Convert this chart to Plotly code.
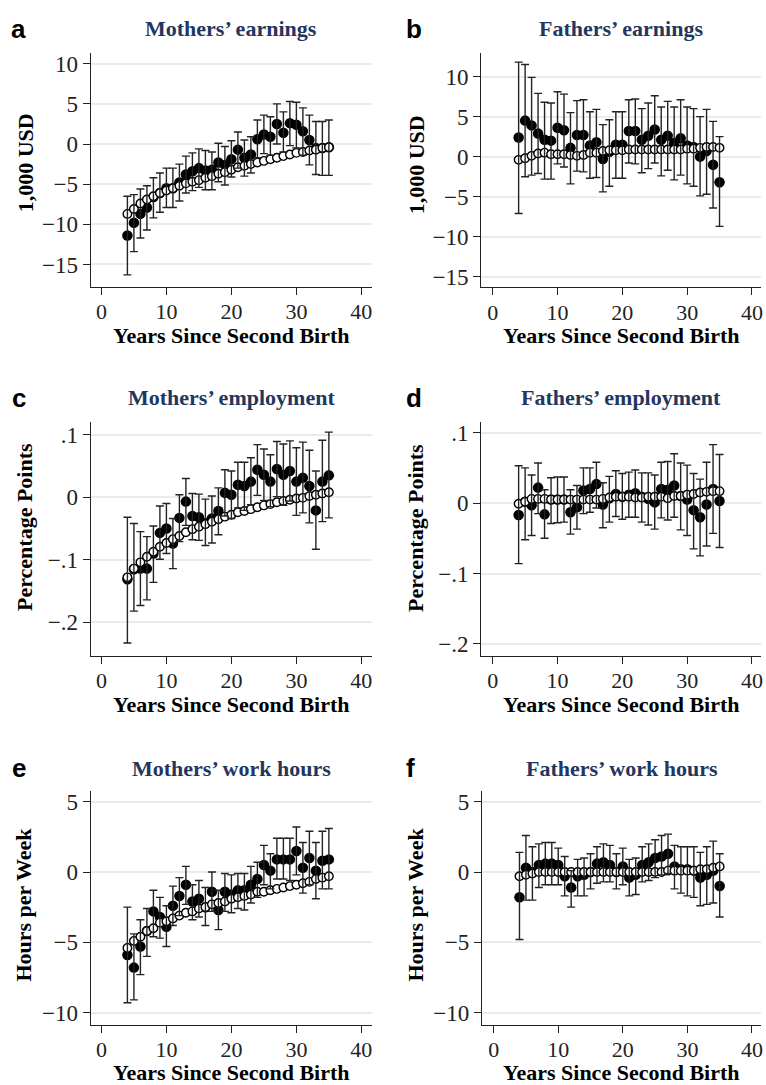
import plotly.graph_objects as go

# ---------------- data ----------------
years = [4, 5, 6, 7, 8, 9, 10, 11, 12, 13, 14, 15, 16, 17, 18, 19,
         20, 21, 22, 23, 24, 25, 26, 27, 28, 29, 30, 31, 32, 33, 34, 35]

# a: Mothers' earnings (1,000 USD)
a_est = [-11.4, -9.8, -8.7, -7.9, -6.6, -6.1, -5.5, -5.5, -4.8, -3.8, -3.4, -3.0, -3.3, -3.2, -2.3, -2.6,
         -1.9, -0.7, -1.7, -1.3, 0.6, 1.2, 0.9, 2.5, 1.4, 2.6, 2.4, 1.6, 0.5, -0.5, -0.5, -0.4]
a_lo = [-16.3, -13.4, -11.7, -10.7, -9.2, -8.5, -7.9, -7.9, -7.1, -6.1, -5.8, -5.4, -5.7, -5.7, -4.7, -5.1,
        -4.1, -3.0, -4.0, -3.6, -1.7, -1.2, -1.4, 0.0, -1.0, -0.2, -0.5, -1.4, -2.6, -3.8, -3.9, -3.9]
a_hi = [-6.5, -6.3, -5.6, -5.2, -4.2, -3.6, -3.0, -3.0, -2.5, -1.5, -1.1, -0.6, -0.8, -1.0, 0.1, -0.3,
        0.4, 1.5, 0.5, 0.9, 3.0, 3.6, 3.4, 5.0, 4.0, 5.3, 5.2, 4.5, 3.6, 2.8, 2.8, 3.0]
a_cf = [-8.7, -8.1, -7.4, -6.9, -6.5, -6.1, -5.8, -5.5, -5.2, -4.9, -4.7, -4.5, -4.2, -4.0, -3.7, -3.5,
        -3.2, -2.9, -2.7, -2.5, -2.3, -2.1, -1.9, -1.7, -1.5, -1.3, -1.1, -1.0, -0.8, -0.7, -0.5, -0.4]

# b: Fathers' earnings (1,000 USD)
b_est = [2.4, 4.5, 3.9, 2.9, 2.1, 2.0, 3.6, 3.3, 1.1, 2.7, 2.7, 1.4, 1.8, -0.3, 0.6, 1.5,
         1.5, 3.2, 3.2, 2.1, 2.6, 3.4, 2.1, 2.6, 1.7, 2.3, 1.4, 1.2, 0.0, 0.7, -1.0, -3.2]
b_lo = [-7.1, -2.5, -2.3, -2.1, -2.8, -2.8, -0.9, -1.3, -3.4, -1.8, -1.9, -2.7, -2.6, -4.4, -3.7, -2.7,
        -2.7, -0.8, -0.9, -2.0, -1.5, -0.8, -2.4, -1.7, -2.9, -2.3, -3.4, -3.7, -4.9, -4.7, -6.4, -8.7]
b_hi = [11.8, 11.5, 9.9, 7.9, 6.8, 6.7, 8.1, 7.8, 5.5, 7.0, 7.1, 5.6, 5.9, 4.0, 4.6, 5.6,
        5.6, 7.1, 7.2, 6.0, 6.7, 7.6, 6.2, 6.9, 6.2, 7.1, 6.2, 6.0, 5.0, 5.9, 4.4, 2.5]
b_cf = [-0.4, -0.2, 0.1, 0.4, 0.5, 0.3, 0.3, 0.3, 0.2, 0.1, 0.2, 0.5, 0.5, 0.7, 0.8, 0.8,
        0.8, 0.9, 0.9, 0.9, 0.9, 0.9, 0.9, 0.9, 0.9, 0.9, 1.0, 1.0, 1.1, 1.2, 1.2, 1.1]

# c: Mothers' employment (percentage points)
c_est = [-0.131, -0.115, -0.114, -0.114, -0.090, -0.057, -0.050, -0.074, -0.033, -0.007, -0.030, -0.032,
         -0.041, -0.034, -0.022, 0.007, 0.004, 0.020, 0.018, 0.025, 0.044, 0.036, 0.025, 0.045,
         0.036, 0.042, 0.025, 0.031, 0.018, -0.021, 0.025, 0.035]
c_lo = [-0.233, -0.182, -0.173, -0.164, -0.136, -0.099, -0.090, -0.114, -0.071, -0.045, -0.068, -0.069,
        -0.077, -0.073, -0.060, -0.030, -0.034, -0.017, -0.021, -0.012, 0.003, -0.005, -0.015, 0.001,
        -0.013, -0.006, -0.029, -0.025, -0.041, -0.083, -0.039, -0.033]
c_hi = [-0.032, -0.042, -0.055, -0.063, -0.046, -0.014, -0.010, -0.034, 0.004, 0.030, 0.006, 0.005,
        -0.003, 0.002, 0.015, 0.044, 0.042, 0.056, 0.056, 0.063, 0.084, 0.077, 0.068, 0.089,
        0.085, 0.090, 0.079, 0.088, 0.075, 0.042, 0.091, 0.104]
c_cf = [-0.128, -0.114, -0.104, -0.095, -0.087, -0.079, -0.073, -0.067, -0.062, -0.056, -0.051, -0.047,
        -0.043, -0.039, -0.035, -0.031, -0.028, -0.024, -0.022, -0.019, -0.016, -0.013, -0.011, -0.008,
        -0.006, -0.004, -0.002, -0.001, 0.002, 0.004, 0.006, 0.008]

# d: Fathers' employment (percentage points)
d_est = [-0.017, 0.002, -0.003, 0.022, -0.016, 0.005, 0.005, 0.005, -0.013, -0.006, 0.018, 0.020,
         0.027, -0.002, 0.007, 0.013, 0.009, 0.012, 0.014, 0.009, 0.006, 0.001, 0.020, 0.019,
         0.025, 0.010, 0.005, -0.010, -0.020, -0.002, 0.020, 0.003]
d_lo = [-0.086, -0.052, -0.046, -0.015, -0.050, -0.029, -0.028, -0.027, -0.044, -0.037, -0.015, -0.013,
        -0.007, -0.035, -0.027, -0.019, -0.023, -0.020, -0.020, -0.027, -0.031, -0.037, -0.021, -0.024,
        -0.020, -0.038, -0.046, -0.065, -0.075, -0.061, -0.043, -0.063]
d_hi = [0.053, 0.050, 0.040, 0.057, 0.019, 0.036, 0.037, 0.037, 0.019, 0.025, 0.050, 0.050,
        0.058, 0.029, 0.038, 0.046, 0.042, 0.044, 0.047, 0.043, 0.043, 0.040, 0.058, 0.059,
        0.070, 0.057, 0.054, 0.042, 0.034, 0.058, 0.083, 0.069]
d_cf = [-0.001, 0.002, 0.006, 0.006, 0.006, 0.005, 0.005, 0.005, 0.005, 0.005, 0.005, 0.005,
        0.005, 0.006, 0.008, 0.009, 0.009, 0.009, 0.008, 0.008, 0.009, 0.009, 0.009, 0.007,
        0.010, 0.010, 0.012, 0.013, 0.015, 0.016, 0.017, 0.017]

# e: Mothers' work hours (hours per week)
e_est = [-5.9, -6.8, -5.3, -4.2, -2.8, -3.2, -3.9, -2.4, -1.7, -0.9, -2.1, -1.9, -2.5, -1.4, -2.7, -1.4,
         -1.6, -1.3, -1.3, -0.9, -0.5, 0.5, 0.1, 0.9, 0.9, 0.9, 1.5, 0.3, 1.0, 0.1, 0.8, 0.9]
e_lo = [-9.3, -9.1, -7.3, -6.0, -4.6, -4.7, -5.3, -3.8, -3.1, -2.3, -3.4, -3.2, -3.8, -2.8, -4.1, -2.8,
        -2.9, -2.6, -2.7, -2.2, -1.8, -0.9, -1.2, -0.5, -0.5, -0.6, -0.2, -1.5, -0.9, -1.9, -1.2, -1.2]
e_hi = [-2.5, -4.4, -3.4, -2.6, -1.3, -1.8, -2.4, -1.0, -0.4, 0.4, -0.9, -0.6, -1.1, 0.0, -1.3, -0.1,
        -0.2, -0.1, -0.1, 0.4, 0.7, 1.9, 1.3, 2.4, 2.4, 2.4, 3.2, 2.1, 2.9, 2.1, 2.9, 3.1]
e_cf = [-5.4, -4.9, -4.6, -4.2, -4.0, -3.6, -3.5, -3.3, -3.1, -2.9, -2.8, -2.6, -2.5, -2.3, -2.2, -2.1,
        -1.9, -1.8, -1.7, -1.6, -1.4, -1.4, -1.3, -1.2, -1.1, -1.0, -0.9, -0.8, -0.7, -0.5, -0.4, -0.3]

# f: Fathers' work hours (hours per week)
f_est = [-1.8, 0.3, 0.0, 0.5, 0.6, 0.6, 0.5, -0.3, -1.1, -0.3, -0.2, 0.0, 0.6, 0.7, 0.5, 0.0,
         0.4, -0.4, -0.2, 0.5, 0.7, 1.0, 1.1, 1.3, 0.4, 0.2, 0.2, 0.1, -0.4, -0.2, 0.1, -1.0]
f_lo = [-4.8, -2.0, -2.0, -1.1, -0.9, -0.9, -0.9, -1.7, -2.5, -1.7, -1.7, -1.2, -0.8, -0.7, -0.7, -1.2,
        -0.9, -1.7, -1.6, -0.7, -0.6, -0.4, -0.2, -0.1, -1.2, -1.5, -1.7, -1.8, -2.4, -2.3, -2.2, -3.2]
f_hi = [1.4, 2.6, 1.8, 2.0, 2.1, 2.1, 1.7, 1.1, 0.1, 0.9, 1.0, 1.3, 1.8, 2.0, 1.9, 1.3,
        1.7, 0.9, 1.0, 1.8, 2.0, 2.3, 2.6, 2.7, 1.9, 1.8, 1.8, 1.8, 1.4, 1.8, 2.2, 1.3]
f_cf = [-0.3, -0.2, -0.1, 0.0, 0.0, 0.0, 0.0, 0.0, 0.0, 0.0, 0.0, 0.0, 0.0, 0.0, 0.0, 0.0,
        0.0, 0.0, 0.0, 0.0, 0.0, 0.0, 0.0, 0.1, 0.1, 0.1, 0.1, 0.1, 0.2, 0.2, 0.3, 0.4]

x_ticks = [0, 10, 20, 30, 40]
earn_ticks = [-15, -10, -5, 0, 5, 10]
emp_ticks = [-0.2, -0.1, 0, 0.1]
emp_ticktext = ["\u2212.2", "\u2212.1", "0", ".1"]
hour_ticks = [-10, -5, 0, 5]

titles = ["Mothers\u2019 earnings", "Fathers\u2019 earnings",
          "Mothers\u2019 employment", "Fathers\u2019 employment",
          "Mothers\u2019 work hours", "Fathers\u2019 work hours"]
letters = ["a", "b", "c", "d", "e", "f"]
ylabels = ["1,000 USD", "1,000 USD", "Percentage Points", "Percentage Points",
           "Hours per Week", "Hours per Week"]
xlabel = "Years Since Second Birth"

# ---------------- layout geometry (page pixels) ----------------
W, H = 766, 1085


def px(x):
    return x / W


def py(y):
    return 1 - y / H


panels = [
    dict(est=a_est, lo=a_lo, hi=a_hi, cf=a_cf, xd=(91, 373), yd=(51.7, 287.0),
         xr=[-1.64, 41.64], yr=[-17.8, 11.4], tv=earn_ticks, tt=None,
         ytc=162, ylx=25, xty=336, tty=28, lx=19),
    dict(est=b_est, lo=b_lo, hi=b_hi, cf=b_cf, xd=(482.5, 763), yd=(51.7, 287.3),
         xr=[-1.77, 41.4], yr=[-16.3, 13.0], tv=earn_ticks, tt=None,
         ytc=164, ylx=417, xty=336, tty=28, lx=415),
    dict(est=c_est, lo=c_lo, hi=c_hi, cf=c_cf, xd=(91, 373), yd=(422.7, 657.0),
         xr=[-1.64, 41.64], yr=[-0.253, 0.12], tv=emp_ticks, tt=emp_ticktext,
         ytc=528, ylx=24, xty=706, tty=398, lx=19),
    dict(est=d_est, lo=d_lo, hi=d_hi, cf=d_cf, xd=(482.5, 763), yd=(422.7, 657.3),
         xr=[-1.77, 41.4], yr=[-0.217, 0.115], tv=emp_ticks, tt=emp_ticktext,
         ytc=529, ylx=416, xty=706, tty=398, lx=415),
    dict(est=e_est, lo=e_lo, hi=e_hi, cf=e_cf, xd=(91, 373), yd=(793.0, 1027.3),
         xr=[-1.64, 41.64], yr=[-10.85, 5.76], tv=hour_ticks, tt=None,
         ytc=907, ylx=24, xty=1075, tty=770, lx=19),
    dict(est=f_est, lo=f_lo, hi=f_hi, cf=f_cf, xd=(483.3, 763), yd=(793.0, 1027.3),
         xr=[-1.8, 41.4], yr=[-10.85, 5.76], tv=hour_ticks, tt=None,
         ytc=907, ylx=417, xty=1075, tty=770, lx=412),
]

SERIF = "Liberation Serif, Times New Roman, serif"
SANS = "Liberation Sans, Arial, sans-serif"
TITLE_COLOR = "#24365e"
GRID = "#e4eef1"
AXC = "#222222"

fig = go.Figure()
layout = dict(width=W, height=H, margin=dict(l=0, r=0, t=0, b=0),
              paper_bgcolor="white", plot_bgcolor="white", showlegend=False)
annotations = []

for i, p in enumerate(panels):
    n = "" if i == 0 else str(i + 1)
    xa, ya = "x" + n, "y" + n
    fig.add_trace(go.Scatter(
        x=years, y=p["est"], mode="markers", xaxis=xa, yaxis=ya,
        marker=dict(size=10.5, color="black", line=dict(width=0)), cliponaxis=False))
    fig.add_trace(go.Scatter(
        x=years, y=p["cf"], mode="markers", xaxis=xa, yaxis=ya,
        marker=dict(size=8.5, color="white", line=dict(width=1.4, color="black")), cliponaxis=False))
    plus = [h - e for h, e in zip(p["hi"], p["est"])]
    minus = [e - l for e, l in zip(p["est"], p["lo"])]
    fig.add_trace(go.Scatter(
        x=years, y=p["est"], mode="markers", xaxis=xa, yaxis=ya,
        marker=dict(size=1, color="rgba(0,0,0,0)"),
        error_y=dict(type="data", array=plus, arrayminus=minus, visible=True,
                     color=AXC, thickness=1.4, width=4), cliponaxis=False))

    xdom = [px(p["xd"][0]), px(p["xd"][1])]
    ydom = [py(p["yd"][1]), py(p["yd"][0])]
    layout["xaxis" + n] = dict(
        domain=xdom, range=p["xr"], anchor=ya, tickvals=x_ticks,
        showline=True, linecolor=AXC, linewidth=1.3, ticks="outside",
        ticklen=7, tickwidth=1.3, tickcolor=AXC, showgrid=False, zeroline=False,
        ticklabelstandoff=-2,
        tickfont=dict(family=SERIF, size=22, color=AXC), fixedrange=True)
    yax = dict(
        domain=ydom, range=p["yr"], anchor=xa, tickvals=p["tv"],
        showline=True, linecolor=AXC, linewidth=1.3, ticks="outside",
        ticklen=7, tickwidth=1.3, tickcolor=AXC, showgrid=True,
        gridcolor=GRID, gridwidth=1.6, zeroline=False,
        tickfont=dict(family=SERIF, size=23, color=AXC), fixedrange=True)
    if p["tt"] is not None:
        yax["ticktext"] = p["tt"]
    layout["yaxis" + n] = yax

    xc = (p["xd"][0] + p["xd"][1]) / 2
    annotations.append(dict(text="<b>" + titles[i] + "</b>", x=px(xc), y=py(p["tty"]),
                            xref="paper", yref="paper", showarrow=False,
                            xanchor="center", yanchor="middle",
                            font=dict(family=SERIF, size=22, color=TITLE_COLOR)))
    annotations.append(dict(text="<b>" + letters[i] + "</b>", x=px(p["lx"]), y=py(p["tty"]),
                            xref="paper", yref="paper", showarrow=False,
                            xanchor="center", yanchor="middle",
                            font=dict(family=SANS, size=26, color="black")))
    annotations.append(dict(text="<b>" + ylabels[i] + "</b>", x=px(p["ylx"]), y=py(p["ytc"]),
                            xref="paper", yref="paper", showarrow=False, textangle=-90,
                            xanchor="center", yanchor="middle",
                            font=dict(family=SERIF, size=22, color="black")))
    annotations.append(dict(text="<b>" + xlabel + "</b>", x=px(xc), y=py(p["xty"]),
                            xref="paper", yref="paper", showarrow=False,
                            xanchor="center", yanchor="middle",
                            font=dict(family=SERIF, size=22, color="black")))

layout["annotations"] = annotations
fig.update_layout(**layout)
# remove the default page margin so the 766x1085 figure fills the window exactly
fig.write_html("out.html", config={"displayModeBar": False},
               post_script="document.body.style.margin='0';document.body.style.overflow='hidden';")
